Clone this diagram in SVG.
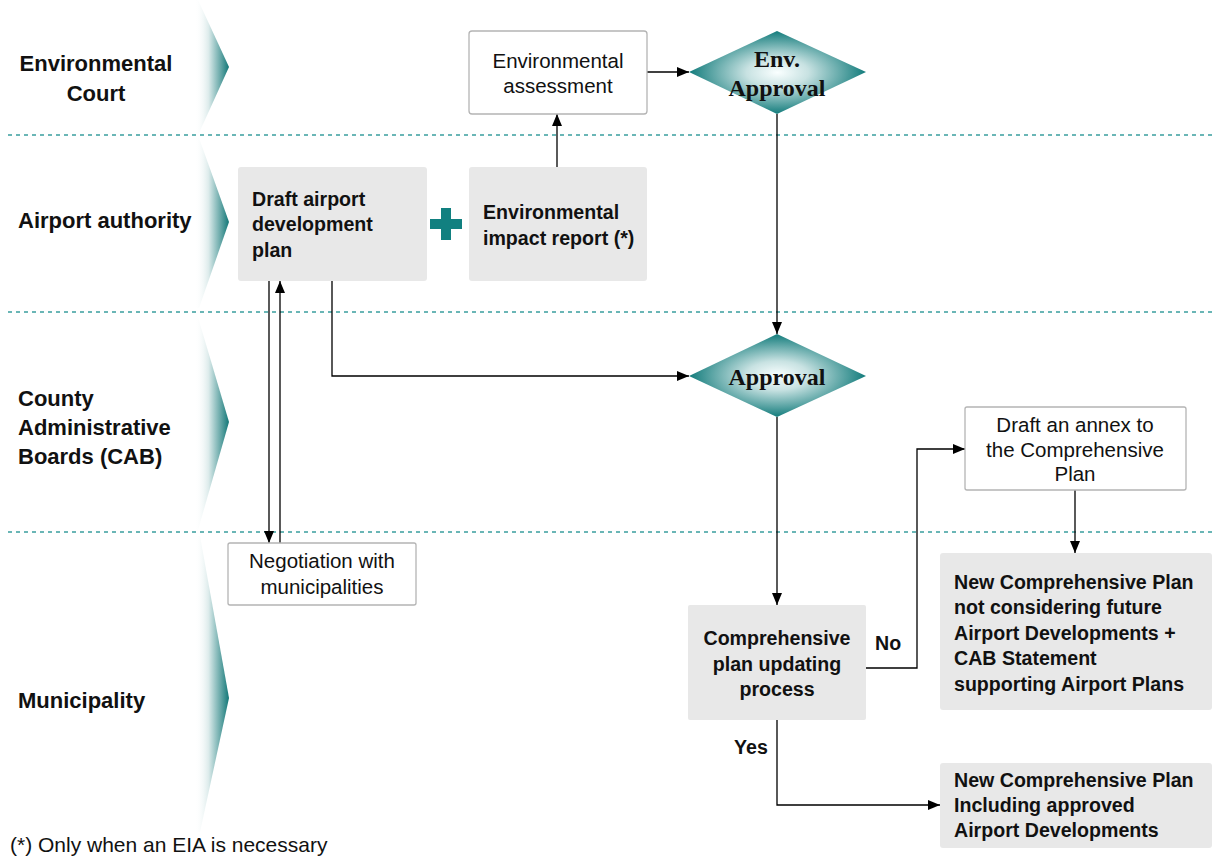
<svg xmlns="http://www.w3.org/2000/svg" width="1212" height="859" viewBox="0 0 1212 859">
<defs>
<style>
.lane{font-family:"Liberation Sans",Arial,sans-serif;font-weight:bold;font-size:22px;fill:#111}
.bt{font-family:"Liberation Sans",Arial,sans-serif;font-weight:bold;font-size:19.6px;fill:#111}
.rt{font-family:"Liberation Sans",Arial,sans-serif;font-size:20.5px;fill:#111}
.dt{font-family:"Liberation Serif","Times New Roman",serif;font-weight:bold;font-size:24px;fill:#111}
.gbox{fill:#E8E8E8}
.wbox{fill:#fff;stroke:#B4B4B4;stroke-width:1.3}
.sep{stroke:#3A9E9E;stroke-width:1.3;stroke-dasharray:4 4;fill:none}
.con{stroke:#000;stroke-width:1.3;fill:none}
</style>
<linearGradient id="chev" x1="195" y1="0" x2="229" y2="0" gradientUnits="userSpaceOnUse">
<stop offset="0" stop-color="#ffffff" stop-opacity="0"/>
<stop offset="0.4" stop-color="#DCEBEB"/>
<stop offset="1" stop-color="#137878"/>
</linearGradient>
<radialGradient id="dia" cx="0.5" cy="0.5" r="0.5">
<stop offset="0" stop-color="#FAFFFF"/>
<stop offset="0.35" stop-color="#C8E2E2"/>
<stop offset="1" stop-color="#137C7C"/>
</radialGradient>
<marker id="ah" viewBox="0 0 12 10" refX="12" refY="5" markerWidth="12" markerHeight="10" markerUnits="userSpaceOnUse" orient="auto">
<path d="M0,0 L12,5 L0,10 z" fill="#000"/>
</marker>
</defs>
<rect width="1212" height="859" fill="#fff"/>

<g id="lanes">
<polygon points="190,0 198,0 229,67 199,133 190,133" fill="url(#chev)"/>
<polygon points="190,138 199,138 229,222 199,308 190,308" fill="url(#chev)"/>
<polygon points="190,314 197,314 229,422 198,530 190,530" fill="url(#chev)"/>
<polygon points="190,536 200,536 229,698 200,832 190,832" fill="url(#chev)"/>
<line class="sep" x1="8" y1="135" x2="1212" y2="135"/>
<line class="sep" x1="8" y1="312" x2="1212" y2="312"/>
<line class="sep" x1="8" y1="532" x2="1212" y2="532"/>
<text class="lane" x="96" y="71" text-anchor="middle">Environmental</text>
<text class="lane" x="96" y="101" text-anchor="middle">Court</text>
<text class="lane" x="18" y="228">Airport authority</text>
<text class="lane" x="18" y="406">County</text>
<text class="lane" x="18" y="435">Administrative</text>
<text class="lane" x="18" y="464">Boards (CAB)</text>
<text class="lane" x="18" y="708">Municipality</text>
</g>

<g id="connectors">
<line class="con" x1="557" y1="167" x2="557" y2="114" marker-end="url(#ah)"/>
<line class="con" x1="647" y1="72" x2="689" y2="72" marker-end="url(#ah)"/>
<line class="con" x1="777" y1="114" x2="777" y2="334" marker-end="url(#ah)"/>
<polyline class="con" points="332,281 332,376 689,376" marker-end="url(#ah)"/>
<line class="con" x1="269" y1="281" x2="269" y2="543" marker-end="url(#ah)"/>
<line class="con" x1="280" y1="543" x2="280" y2="281" marker-end="url(#ah)"/>
<line class="con" x1="777" y1="417" x2="777" y2="605" marker-end="url(#ah)"/>
<polyline class="con" points="866,668 917,668 917,449 965,449" marker-end="url(#ah)"/>
<line class="con" x1="1075" y1="490" x2="1075" y2="553" marker-end="url(#ah)"/>
<polyline class="con" points="777,720 777,805 940,805" marker-end="url(#ah)"/>
<text class="bt" x="875" y="650">No</text>
<text class="bt" x="734" y="754">Yes</text>
</g>

<g id="env-assessment">
<rect class="wbox" x="469" y="31" width="178" height="83" rx="3"/>
<text class="rt" x="558" y="68" text-anchor="middle">Environmental</text>
<text class="rt" x="558" y="93" text-anchor="middle">assessment</text>
</g>

<g id="env-approval">
<polygon points="777,31 866,72 777,114 689,72" fill="url(#dia)"/>
<text class="dt" x="777" y="67" text-anchor="middle">Env.</text>
<text class="dt" x="777" y="96" text-anchor="middle">Approval</text>
</g>

<g id="draft-plan">
<rect class="gbox" x="238" y="167" width="189" height="114" rx="3"/>
<text class="bt" x="252" y="206">Draft airport</text>
<text class="bt" x="252" y="231">development</text>
<text class="bt" x="252" y="257">plan</text>
</g>

<g id="plus">
<rect x="430" y="219" width="32" height="10" fill="#118080"/>
<rect x="441" y="208" width="10" height="32" fill="#118080"/>
</g>

<g id="eir">
<rect class="gbox" x="469" y="167" width="178" height="114" rx="3"/>
<text class="bt" x="483" y="219">Environmental</text>
<text class="bt" x="483" y="245">impact report (*)</text>
</g>

<g id="approval">
<polygon points="777,334 866,376 777,417 689,376" fill="url(#dia)"/>
<text class="dt" x="777" y="385" text-anchor="middle">Approval</text>
</g>

<g id="negotiation">
<rect class="wbox" x="228" y="543" width="188" height="62" rx="2"/>
<text class="rt" x="322" y="568" text-anchor="middle">Negotiation with</text>
<text class="rt" x="322" y="594" text-anchor="middle">municipalities</text>
</g>

<g id="annex">
<rect class="wbox" x="965" y="407" width="221" height="83" rx="2"/>
<text class="rt" x="1075" y="432" text-anchor="middle">Draft an annex to</text>
<text class="rt" x="1075" y="457" text-anchor="middle">the Comprehensive</text>
<text class="rt" x="1075" y="481" text-anchor="middle">Plan</text>
</g>

<g id="comp-plan">
<rect class="gbox" x="688" y="605" width="178" height="115" rx="2"/>
<text class="bt" x="777" y="645" text-anchor="middle">Comprehensive</text>
<text class="bt" x="777" y="671" text-anchor="middle">plan updating</text>
<text class="bt" x="777" y="696" text-anchor="middle">process</text>
</g>

<g id="ncp-not">
<rect class="gbox" x="940" y="553" width="272" height="157" rx="3"/>
<text class="bt" x="954" y="589">New Comprehensive Plan</text>
<text class="bt" x="954" y="614">not considering future</text>
<text class="bt" x="954" y="640">Airport Developments +</text>
<text class="bt" x="954" y="665">CAB Statement</text>
<text class="bt" x="954" y="691">supporting Airport Plans</text>
</g>

<g id="ncp-incl">
<rect class="gbox" x="940" y="763" width="272" height="85" rx="3"/>
<text class="bt" x="954" y="787">New Comprehensive Plan</text>
<text class="bt" x="954" y="812">Including approved</text>
<text class="bt" x="954" y="837">Airport Developments</text>
</g>

<text class="rt" x="10" y="852" style="font-size:21px">(*) Only when an EIA is necessary</text>
</svg>
